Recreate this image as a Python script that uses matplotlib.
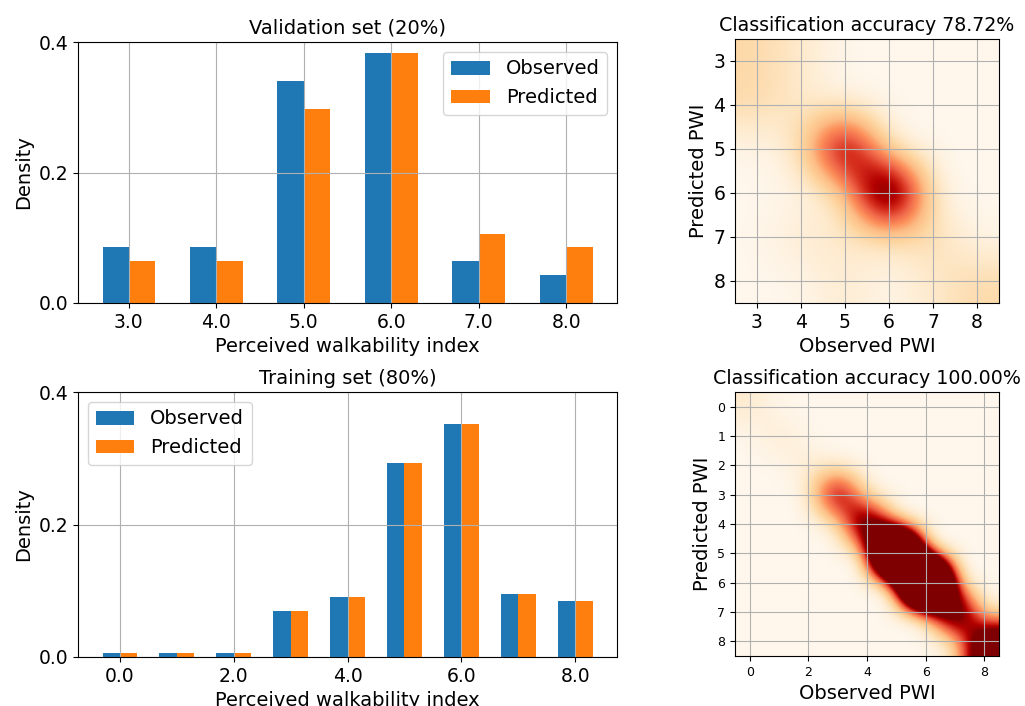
import numpy as np
import matplotlib
matplotlib.use("Agg")
import matplotlib.pyplot as plt
from matplotlib.ticker import FormatStrFormatter

# ---- data ----
val_classes = [3, 4, 5, 6, 7, 8]
val_observed = [0.0851, 0.0851, 0.3404, 0.3830, 0.0638, 0.0426]
val_predicted = [0.0638, 0.0638, 0.2979, 0.3830, 0.1064, 0.0851]

train_classes = [0, 1, 2, 3, 4, 5, 6, 7, 8]
train_observed = [0.0053, 0.0053, 0.0053, 0.0691, 0.0904, 0.2926, 0.3511, 0.0957, 0.0851]
train_predicted = [0.0053, 0.0053, 0.0053, 0.0691, 0.0904, 0.2926, 0.3511, 0.0957, 0.0851]

# confusion matrices: rows = predicted, cols = observed
val_cm = np.array([
    [2, 1, 0, 0, 0, 0],
    [2, 1, 0, 0, 0, 0],
    [0, 1, 13, 0, 0, 0],
    [0, 0, 1, 17, 0, 0],
    [0, 1, 1, 1, 2, 0],
    [0, 0, 1, 0, 1, 2],
])
train_diag = [1, 1, 1, 13, 17, 55, 66, 18, 16]
train_cm = np.diag(train_diag)

val_acc = np.trace(val_cm) / val_cm.sum() * 100
train_acc = np.trace(train_cm) / train_cm.sum() * 100

W, H = 1025, 706
fig = plt.figure(figsize=(W / 100, H / 100), dpi=100)

def box(l, t, r, b):
    return [l / W, 1 - b / H, (r - l) / W, (b - t) / H]

TICK = 13.5
LAB = 14
width = 0.3

def bar_panel(ax, classes, obs, pred, title, legloc):
    x = np.array(classes, dtype=float)
    ax.bar(x - width / 2, obs, width, label="Observed", color="#1f77b4")
    ax.bar(x + width / 2, pred, width, label="Predicted", color="#ff7f0e")
    ax.set_ylim(0, 0.4)
    ax.set_yticks([0.0, 0.2, 0.4])
    ax.yaxis.set_major_formatter(FormatStrFormatter('%.1f'))
    ax.xaxis.set_major_formatter(FormatStrFormatter('%.1f'))
    ax.grid(True)
    ax.set_title(title, fontsize=LAB)
    ax.set_xlabel("Perceived walkability index", fontsize=LAB)
    ax.set_ylabel("Density", fontsize=LAB)
    ax.tick_params(labelsize=TICK)
    ax.legend(loc=legloc, fontsize=LAB)

ax1 = fig.add_axes(box(78, 42, 617, 303))
bar_panel(ax1, val_classes, val_observed, val_predicted, "Validation set (20%)", "upper right")
ax1.set_xticks(val_classes)

ax2 = fig.add_axes(box(78, 392, 617, 657))
bar_panel(ax2, train_classes, train_observed, train_predicted, "Training set (80%)", "upper left")
ax2.set_xticks([0, 2, 4, 6, 8])

color_max = 9

def heat_panel(ax, cm, classes, acc, ticksize, xticks):
    lo, hi = classes[0] - 0.5, classes[-1] + 0.5
    ax.imshow(cm, cmap="OrRd", interpolation="bicubic", interpolation_stage="data",
              vmin=0, vmax=color_max, extent=[lo, hi, hi, lo], aspect="auto")
    ax.set_xlim(lo, hi)
    ax.set_ylim(hi, lo)
    ax.set_xticks(xticks)
    ax.set_yticks(classes)
    ax.grid(True)
    ax.tick_params(labelsize=ticksize)
    ax.set_title("Classification accuracy %.2f%%" % acc, fontsize=13.7)
    ax.set_xlabel("Observed PWI", fontsize=LAB)
    ax.set_ylabel("Predicted PWI", fontsize=LAB)

ax3 = fig.add_axes(box(735, 39, 999, 303))
heat_panel(ax3, val_cm, val_classes, val_acc, TICK, val_classes)

ax4 = fig.add_axes(box(735, 392, 999, 656))
heat_panel(ax4, train_cm, train_classes, train_acc, 9, [0, 2, 4, 6, 8])

fig.savefig("out.png", dpi=100)
